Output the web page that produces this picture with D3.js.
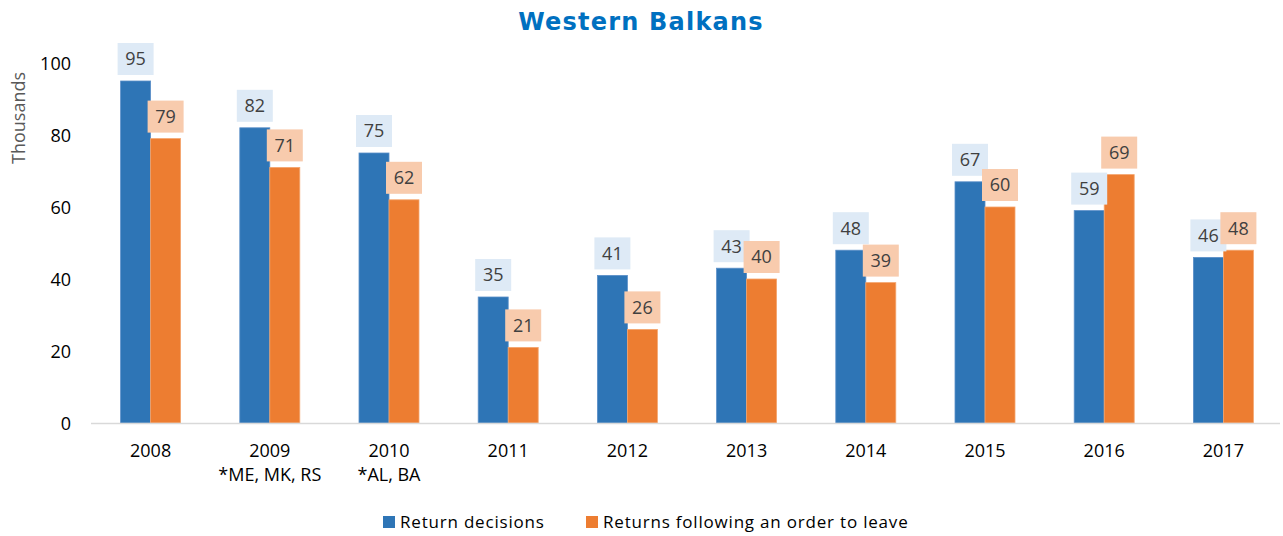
<!DOCTYPE html>
<html><head><meta charset="utf-8">
<script src="https://cdn.jsdelivr.net/npm/d3@7"></script>
<style>body{margin:0;background:#fff}svg{display:block}</style>
</head><body><svg id="c" width="1283" height="536"></svg>
<script>
const years = ["2008","2009","2010","2011","2012","2013","2014","2015","2016","2017"];
const subLabels = ["","*ME, MK, RS","*AL, BA","","","","","","",""];
const returnDecisions = [95,82,75,35,41,43,48,67,59,46];
const returnsFollowing = [79,71,62,21,26,40,39,60,69,48];
const seriesNames = ["Return decisions","Returns following an order to leave"];
const yTicks = [0,20,40,60,80,100];
const colors = ["#2e75b6","#ed7d31"];
const labelFills = ["#deeaf6","#f8cbad"];

const svg = d3.select("#c");
const font = "'Open Sans', 'Noto Sans', sans-serif";
const x = d3.scaleBand().domain(years).range([91,1283]).paddingInner(0).paddingOuter(0);
const y = d3.scaleLinear().domain([0,100]).range([423,63]);
const bw = 30;

svg.append("text").attr("x",641).attr("y",30).attr("text-anchor","middle")
  .attr("font-family","'DejaVu Sans', Verdana, sans-serif").attr("font-weight","bold")
  .attr("font-size",24).attr("letter-spacing",1.2).attr("fill","#0070c0").text("Western Balkans");

svg.append("text").attr("transform","translate(25,118) rotate(-90)").attr("text-anchor","middle")
  .attr("font-family",font).attr("font-size",18).attr("fill","#595959").text("Thousands");

// y axis
const yAxis = d3.axisLeft(y).tickValues(yTicks).tickSize(0).tickPadding(0);
const ga = svg.append("g").attr("transform","translate(71,0)").call(yAxis);
ga.select(".domain").remove();
ga.selectAll("text").attr("font-family",font).attr("font-size",18).attr("fill","#000").attr("dy","0.35em");

const series = [returnDecisions, returnsFollowing];
series.forEach((vals,si)=>{
  svg.append("g").selectAll("rect").data(vals).join("rect")
    .attr("x",(d,i)=>x(years[i])+x.bandwidth()/2 - bw + si*bw)
    .attr("y",d=>y(d)).attr("width",bw).attr("height",d=>y(0)-y(d))
    .attr("fill",colors[si]).attr("stroke", si===0?"#5b8fc9":"#f4a56e").attr("stroke-width",0.8);
});

// x axis
svg.append("line").attr("x1",91).attr("x2",1280).attr("y1",y(0)+0.5).attr("y2",y(0)+0.5)
  .attr("stroke","#d9d9d9").attr("stroke-width",1.5);
const xAxis = d3.axisBottom(x).tickSize(0).tickPadding(0);
const gx = svg.append("g").attr("transform",`translate(0,${y(0)})`).call(xAxis);
gx.select(".domain").remove();
gx.selectAll("text").attr("font-family",font).attr("font-size",18).attr("fill","#000")
  .attr("dy",null).attr("y",34);
years.forEach((yr,i)=>{
  if(subLabels[i]) svg.append("text").attr("x",x(yr)+x.bandwidth()/2).attr("y",y(0)+58)
    .attr("text-anchor","middle").attr("font-family",font).attr("font-size",18).attr("fill","#000").text(subLabels[i]);
});

// data labels
series.forEach((vals,si)=>{
  const g = svg.append("g");
  vals.forEach((v,i)=>{
    const cx = x(years[i])+x.bandwidth()/2 - bw/2 + si*bw;
    const cy = y(v) - 22;
    g.append("rect").attr("x",cx-18).attr("y",cy-16).attr("width",36).attr("height",32).attr("fill",labelFills[si]);
    g.append("text").attr("x",cx).attr("y",cy).attr("dy","0.36em").attr("text-anchor","middle")
      .attr("font-family",font).attr("font-size",18).attr("fill","#404040").text(v);
  });
});

// legend
const leg = svg.append("g");
const legX = [383,586];
seriesNames.forEach((n,i)=>{
  leg.append("rect").attr("x",legX[i]).attr("y",516).attr("width",12).attr("height",12).attr("fill",colors[i]);
  leg.append("text").attr("x",legX[i]+17).attr("y",522).attr("dy","0.35em").attr("letter-spacing",0.8)
    .attr("font-family",font).attr("font-size",17).attr("fill","#000").text(n);
});
</script></body></html>
